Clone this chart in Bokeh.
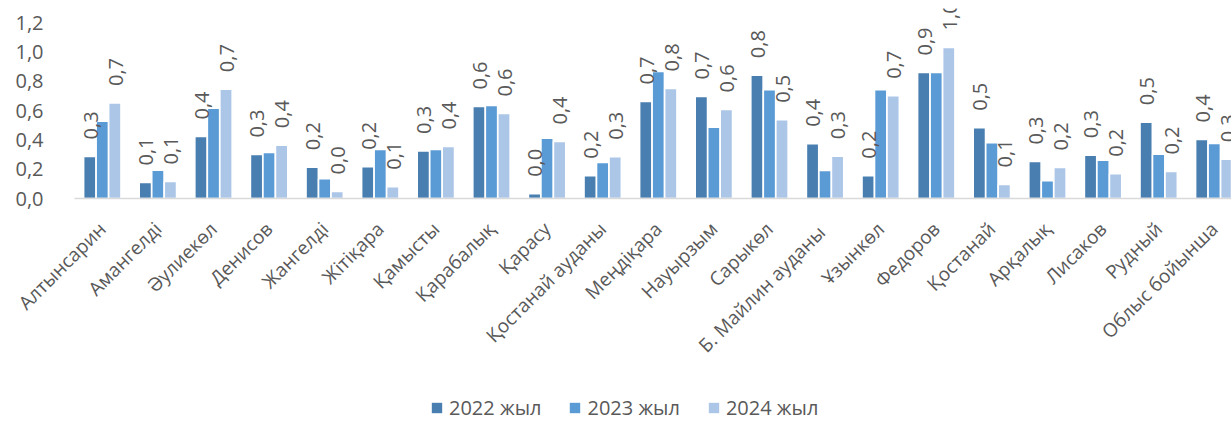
import math
from bokeh.plotting import figure
from bokeh.layouts import column
from bokeh.models import (ColumnDataSource, Range1d, FixedTicker, LabelSet,
                          Legend, LegendItem)
from bokeh.core.properties import value
from bokeh.embed import file_html
from bokeh.resources import INLINE

categories = ["Алтынсарин", "Амангелді", "Әулиекөл", "Денисов", "Жангелді",
              "Жітіқара", "Қамысты", "Қарабалық", "Қарасу", "Қостанай ауданы",
              "Меңдіқара", "Науырзым", "Сарыкөл", "Б.  Майлин ауданы", "Ұзынкөл",
              "Федоров", "Қостанай", "Арқалық", "Лисаков", "Рудный", "Облыс бойынша"]
v2022 = [0.287, 0.109, 0.423, 0.300, 0.214, 0.216, 0.325, 0.628, 0.032, 0.156,
         0.662, 0.696, 0.842, 0.373, 0.156, 0.860, 0.483, 0.252, 0.296, 0.521, 0.403]
v2023 = [0.528, 0.193, 0.616, 0.314, 0.134, 0.334, 0.334, 0.635, 0.412, 0.246,
         0.867, 0.487, 0.742, 0.191, 0.742, 0.860, 0.380, 0.121, 0.261, 0.302, 0.375]
v2024 = [0.652, 0.116, 0.746, 0.364, 0.048, 0.080, 0.355, 0.580, 0.389, 0.285,
         0.751, 0.608, 0.537, 0.289, 0.701, 1.031, 0.096, 0.212, 0.169, 0.184, 0.268]
series_names = ["2022 жыл", "2023 жыл", "2024 жыл"]
y_ticks = [0.0, 0.2, 0.4, 0.6, 0.8, 1.0, 1.2]

colors = ["#497EB0", "#5B9BD5", "#ACC6E8"]
FONT = "Open Sans"
GRAY = "#595959"

def fmt(v):
    return f"{v:.1f}".replace(".", ",")

p = figure(frame_width=1157, frame_height=190, output_backend="svg",
           toolbar_location=None,
           x_range=Range1d(-0.5, 20.31), y_range=Range1d(0, 1.297),
           min_border_left=74, min_border_right=0, min_border_top=8,
           min_border_bottom=194)
p.outline_line_color = None
p.xgrid.visible = False
p.ygrid.visible = False
p.background_fill_color = "white"
p.border_fill_color = "white"

idx = list(range(len(categories)))
offsets = [-0.225, 0.0, 0.225]
for vals, off, col in zip([v2022, v2023, v2024], offsets, colors):
    src = ColumnDataSource(dict(x=[i + off for i in idx], top=vals))
    p.vbar(x="x", top="top", width=0.22, source=src, fill_color=col,
           line_color="white", line_width=1.5)

# data labels for 2022 and 2024 only
for vals, off in [(v2022, -0.225), (v2024, 0.225)]:
    src = ColumnDataSource(dict(x=[i + off + 0.015 for i in idx], y=vals,
                                t=[fmt(v) for v in vals]))
    ls = LabelSet(x="x", y="y", text="t", source=src, angle=math.pi / 2,
                  text_align="left", text_baseline="middle", y_offset=17,
                  text_font=value(FONT), text_font_size="20px", text_color=GRAY)
    p.add_layout(ls)

# axes
xa = p.xaxis[0]
xa.ticker = FixedTicker(ticks=idx)
xa.major_label_overrides = {i: c for i, c in enumerate(categories)}
xa.major_label_orientation = math.pi / 4
xa.major_tick_line_color = None
xa.minor_tick_line_color = None
xa.axis_line_color = "#D9D9D9"
xa.axis_line_width = 1.5
xa.major_label_text_font = FONT
xa.major_label_text_font_size = "19px"
xa.major_label_text_color = GRAY
xa.major_label_standoff = 21

ya = p.yaxis[0]
ya.ticker = FixedTicker(ticks=y_ticks)
ya.major_label_overrides = {t: fmt(t) for t in y_ticks}
ya.axis_line_color = None
ya.major_tick_line_color = None
ya.minor_tick_line_color = None
ya.major_label_text_font = FONT
ya.major_label_text_font_size = "20px"
ya.major_label_text_color = GRAY
ya.major_label_standoff = 25

# legend strip: swatch renderers are hidden, only their legend glyphs show
pl = figure(width=1231, height=29, output_backend="svg", toolbar_location=None,
            x_range=Range1d(0, 1), y_range=Range1d(0, 1),
            x_axis_type=None, y_axis_type=None, min_border=0)
pl.outline_line_color = None
pl.xgrid.visible = False
pl.ygrid.visible = False
leg_renderers = []
for vals, col in zip([v2022, v2023, v2024], colors):
    src = ColumnDataSource(dict(x=[-10 - i for i in idx], top=vals))
    r = pl.vbar(x="x", top="top", width=0.1, source=src, fill_color=col,
                line_color=None)
    r.visible = False
    leg_renderers.append(r)
legend = Legend(items=[LegendItem(label=n, renderers=[r]) for n, r in zip(series_names, leg_renderers)],
                orientation="horizontal", location=(356, 0),
                glyph_width=13, glyph_height=13, label_standoff=6, spacing=27,
                padding=0, margin=0, border_line_color=None,
                background_fill_alpha=0, click_policy="none",
                label_text_font=FONT, label_text_font_size="20px",
                label_text_color=GRAY)
pl.add_layout(legend, "center")

layout = column(p, pl, spacing=0)
open("out.html", "w").write(file_html(layout, INLINE))
